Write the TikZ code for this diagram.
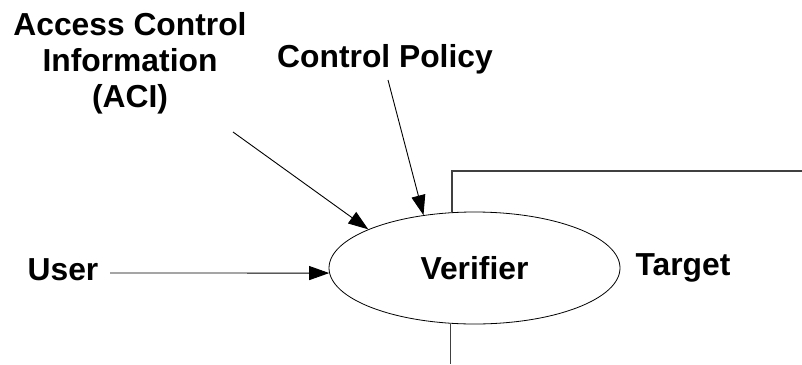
\documentclass[tikz,border=0pt]{standalone}
\usepackage{fontspec}
\setmainfont{Liberation Sans}
\usetikzlibrary{arrows.meta,shapes.geometric}
\tikzset{
  lbl/.style={font=\fontsize{31.8}{36}\selectfont\bfseries, inner sep=0pt, anchor=base},
  flow/.style={draw=black, line width=0.9pt, -{Triangle[length=20pt,width=14pt]}},
  wall/.style={draw=black!75, line width=1.1pt},
}
\begin{document}
\begin{tikzpicture}[x=1pt,y=-1pt]
  \useasboundingbox (0,0) rectangle (802,364);

  % central process
  \node[draw=black, line width=0.8pt, ellipse, minimum width=291pt, minimum height=112pt,
        inner sep=0pt, font=\fontsize{31.8}{36}\selectfont\bfseries] (verifier) at (474.5,268) {Verifier};

  % labels (multi-line base anchor sits on the last line)
  \node[lbl, align=center] (aci) at (130,107) {Access Control\\Information\\(ACI)};
  \node[lbl] (policy) at (385,67) {Control Policy};
  \node[lbl] (user) at (63,280) {User};
  \node[lbl] (target) at (683,275) {Target};

  % arrow start points
  \coordinate (acistart) at (233,132);
  \coordinate (polstart) at (388,80);
  \coordinate (userstart) at (110,273);

  \draw[flow] (acistart) -- (verifier.160.7);
  \draw[flow] (polstart) -- (verifier.134.2);
  \draw[flow] (userstart) -- (verifier.182);

  % target boundary
  \coordinate (topright) at (802,171);
  \coordinate (bottomedge) at (452,364);
  \draw[wall] (verifier.112.1) |- (topright);
  \draw[wall] (verifier.247.9) -- (verifier.247.9 |- bottomedge);
\end{tikzpicture}
\end{document}
